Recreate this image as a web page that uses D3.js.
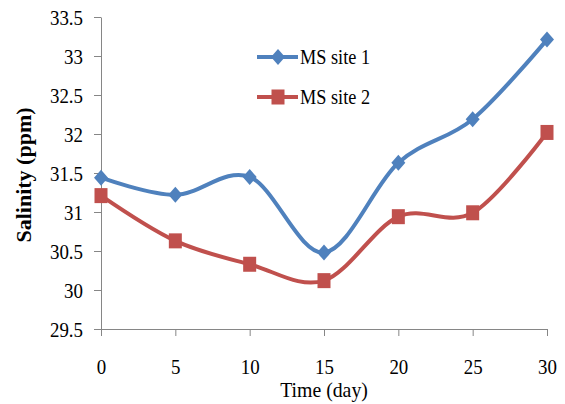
<!DOCTYPE html>
<html>
<head>
<meta charset="utf-8">
<script src="https://cdn.jsdelivr.net/npm/d3@7/dist/d3.min.js"></script>
<style>
  html, body { margin: 0; padding: 0; background: #fff; }
  svg { display: block; }
</style>
</head>
<body>
<svg id="chart" width="565" height="404"></svg>
<script>
const days = [0, 5, 10, 15, 20, 25, 30];
const site1 = [31.44, 31.22, 31.45, 30.48, 31.63, 32.19, 33.21];
const site2 = [31.21, 30.63, 30.33, 30.12, 30.94, 30.99, 32.02];
const seriesNames = ["MS site 1", "MS site 2"];
const yTicks = [29.5, 30, 30.5, 31, 31.5, 32, 32.5, 33, 33.5];
const xTicks = [0, 5, 10, 15, 20, 25, 30];

(function () {
const FONT = "'Liberation Serif', 'DejaVu Serif', serif";
const colors = ["#4F81BD", "#C0504D"];
const svg = d3.select("#chart").style("font-family", FONT);
const pL = 101, pR = 547, pT = 17, pB = 329;
const sx = 0.9;

const x = d3.scaleLinear().domain([0, 30]).range([pL, pR]);
const y = d3.scaleLinear().domain([29.5, 33.5]).range([pB, pT]);

const yAxis = svg.append("g")
  .attr("transform", `translate(${pL},0)`)
  .call(d3.axisLeft(y).tickValues(yTicks).tickSize(7).tickSizeOuter(0).tickFormat(d3.format("")));
yAxis.attr("font-family", null);
yAxis.select(".domain").attr("stroke", "#868686").attr("stroke-width", 1);
yAxis.selectAll(".tick line").attr("stroke", "#868686");
yAxis.selectAll(".tick text")
  .attr("x", 0).attr("dy", "0.34em")
  .attr("transform", `translate(-18,0) scale(${sx},1)`)
  .style("font-family", FONT)
  .style("font-size", "21px").attr("fill", "#000");

const xAxis = svg.append("g")
  .attr("transform", `translate(0,${pB})`)
  .call(d3.axisBottom(x).tickValues(xTicks).tickSize(7).tickSizeOuter(0));
xAxis.attr("font-family", null);
xAxis.select(".domain").attr("stroke", "#868686").attr("stroke-width", 1);
xAxis.selectAll(".tick line").attr("stroke", "#868686");
xAxis.selectAll(".tick text")
  .attr("y", 0).attr("dy", 0)
  .attr("transform", `translate(0,45) scale(${sx},1)`)
  .style("font-family", FONT)
  .style("font-size", "21px").attr("fill", "#000");

svg.append("text")
  .attr("transform", `translate(324,397) scale(${sx},1)`)
  .attr("text-anchor", "middle")
  .style("font-family", FONT)
  .style("font-size", "22px")
  .text("Time (day)");

svg.append("text")
  .attr("transform", `translate(31,175) rotate(-90)`)
  .attr("text-anchor", "middle")
  .style("font-family", FONT)
  .style("font-size", "22px")
  .style("font-weight", "bold")
  .text("Salinity (ppm)");

const line = d3.line()
  .x((d, i) => x(days[i]))
  .y(d => y(d))
  .curve(d3.curveCardinal.tension(0));

[site1, site2].forEach((vals, k) => {
  svg.append("path")
    .attr("d", line(vals))
    .attr("fill", "none")
    .attr("stroke", colors[k])
    .attr("stroke-width", 4)
    .attr("stroke-linejoin", "round");
});

function diamond(g, cx, cy) {
  g.append("path")
    .attr("d", `M${cx},${cy - 8}L${cx + 7},${cy}L${cx},${cy + 8}L${cx - 7},${cy}Z`)
    .attr("fill", colors[0]);
}
function square(g, cx, cy) {
  g.append("rect")
    .attr("x", cx - 6.5).attr("y", cy - 7.5)
    .attr("width", 13).attr("height", 15)
    .attr("fill", colors[1]);
}

const marks = svg.append("g");
site1.forEach((v, i) => diamond(marks, x(days[i]), y(v)));
site2.forEach((v, i) => square(marks, x(days[i]), y(v)));

const legend = svg.append("g");
const legRows = [57, 97];
seriesNames.forEach((name, k) => {
  const ly = legRows[k];
  legend.append("line")
    .attr("x1", 257).attr("x2", 298).attr("y1", ly).attr("y2", ly)
    .attr("stroke", colors[k]).attr("stroke-width", 4);
  if (k === 0) diamond(legend, 278, ly); else square(legend, 278, ly);
  legend.append("text")
    .attr("transform", `translate(300,${ly + 7}) scale(${sx - 0.03},1)`)
    .style("font-family", FONT)
    .style("font-size", "21px")
    .text(name);
});
})();
</script>
</body>
</html>
